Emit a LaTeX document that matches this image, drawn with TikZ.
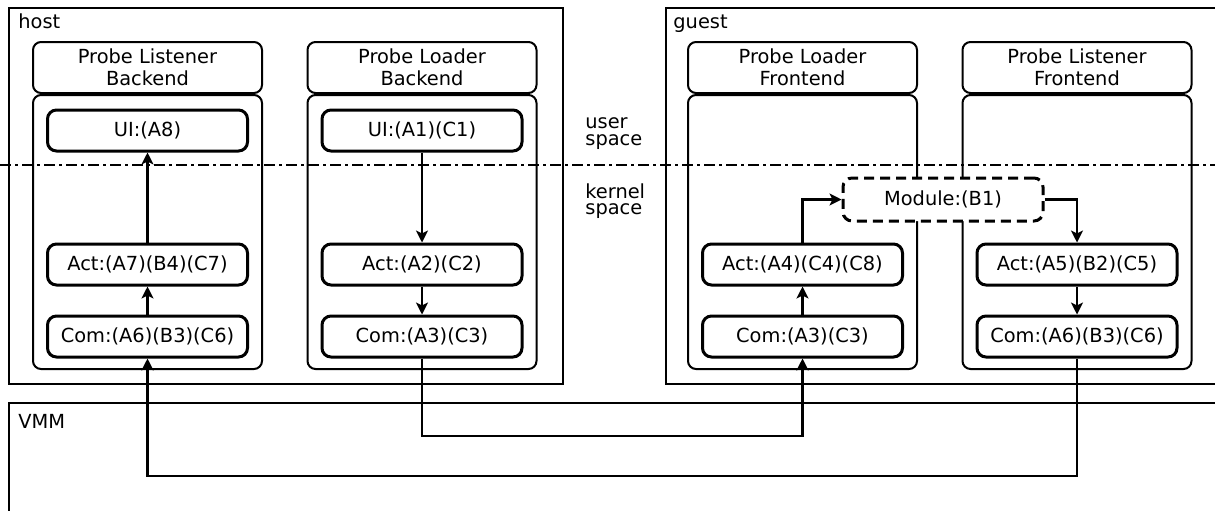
\documentclass[tikz,border=0pt]{standalone}
\usepackage{fontspec}
\setmainfont{DejaVu Sans}
\usetikzlibrary{positioning,arrows.meta}

\tikzset{
  zone/.style={rectangle, draw, line width=1pt, anchor=north west, inner sep=0pt},
  part/.style={rectangle, draw, line width=1pt, rounded corners=4pt, minimum width=114.5pt, inner sep=0pt},
  headbox/.style={part, minimum height=25.5pt, align=center},
  bodybox/.style={part, minimum height=137pt},
  block/.style={rectangle, draw, line width=1.5pt, rounded corners=4.5pt, minimum width=100pt, minimum height=20.5pt, fill=white, inner sep=0pt},
  flow/.style={-{Stealth[length=6pt,width=6pt,inset=1.5pt]}, line width=1.4pt},
  spaceline/.style={line width=1.2pt, dash pattern=on 5.5pt off 2pt on 1.5pt off 2pt},
  tag/.style={anchor=base west, inner sep=0pt},
}

\begin{document}
\begin{tikzpicture}[x=0.5pt, y=-0.5pt, font=\fontsize{9.7}{11}\selectfont]
    \useasboundingbox (0,0) rectangle (1215,510);
    \clip (0,0) rectangle (1215,510);

    % Domains
    \node [zone, minimum width=277pt, minimum height=188pt] (host) at (8,7) {};
    \node [zone, minimum width=282.5pt, minimum height=188pt] (guest) at (665,7) {};
    \node [zone, minimum width=611pt, minimum height=64pt] (vmm) at (8,402) {};
    \node [tag] (hostlbl) at ([xshift=5pt,yshift=-10.5pt]host.north west) {host};
    \node [tag] (guestlbl) at ([xshift=4pt,yshift=-10.5pt]guest.north west) {guest};
    \node [tag] (vmmlbl) at ([xshift=5pt,yshift=-13pt]vmm.north west) {VMM};

    % User / kernel border
    \coordinate (bl) at (0,165);
    \coordinate (br) at (1215,165);
    \draw [spaceline] (bl) -- (br);
    \node [anchor=north west, align=left, inner sep=0pt] (userlbl) at (585,117) {user\\[-2.6pt]space};
    \node [anchor=north west, align=left, inner sep=0pt] (kernlbl) at (585,183) {kernel\\[-2.6pt]space};

    % Components
    \node [headbox] (plbh) at (147.5,67.5) {Probe Listener\\Backend};
    \node [bodybox, below=0pt of plbh] (plb) {};
    \node [headbox] (ldbh) at (422,67.5) {Probe Loader\\Backend};
    \node [bodybox, below=0pt of ldbh] (ldb) {};
    \node [headbox] (ldfh) at (802.5,67.5) {Probe Loader\\Frontend};
    \node [bodybox, below=0pt of ldfh] (ldf) {};
    \node [headbox] (plfh) at (1077,67.5) {Probe Listener\\Frontend};
    \node [bodybox, below=0pt of plfh] (plf) {};

    % Listener backend
    \node [block] (ui8) at (147.5,130.5) {UI:(A8)};
    \node [block] (com6h) at (147.5,336.5) {Com:(A6)(B3)(C6)};
    \node [block, above=14pt of com6h] (act7) {Act:(A7)(B4)(C7)};

    % Loader backend
    \node [block] (ui1) at (422,130.5) {UI:(A1)(C1)};
    \node [block] (com3h) at (422,336.5) {Com:(A3)(C3)};
    \node [block, above=14pt of com3h] (act2) {Act:(A2)(C2)};

    % Loader frontend
    \node [block] (com3g) at (802.5,336.5) {Com:(A3)(C3)};
    \node [block, above=14pt of com3g] (act4) {Act:(A4)(C4)(C8)};

    % Listener frontend
    \node [block] (com6g) at (1077,336.5) {Com:(A6)(B3)(C6)};
    \node [block, above=14pt of com6g] (act5) {Act:(A5)(B2)(C5)};

    % Kernel module
    \node [block, dash pattern=on 5pt off 3pt, minimum height=21.5pt] (mod) at (943,199.5) {Module:(B1)};

    % Arrows
    \draw [flow] (com6h) -- (act7);
    \draw [flow] (act7) -- (ui8);
    \draw [flow] (ui1) -- (act2);
    \draw [flow] (act2) -- (com3h);
    \draw [flow] (com3g) -- (act4);
    \draw [flow] (act4.north) |- (mod.west);
    \draw [flow] (mod.east) -| (act5.north);
    \draw [flow] (act5) -- (com6g);

    % Through the VMM
    \coordinate (busa) at (0,436);
    \coordinate (busb) at (0,476);
    \draw [flow] (com3h.south) -- (com3h.south |- busa) -| (com3g.south);
    \draw [flow] (com6g.south) -- (com6g.south |- busb) -| (com6h.south);
\end{tikzpicture}
\end{document}
